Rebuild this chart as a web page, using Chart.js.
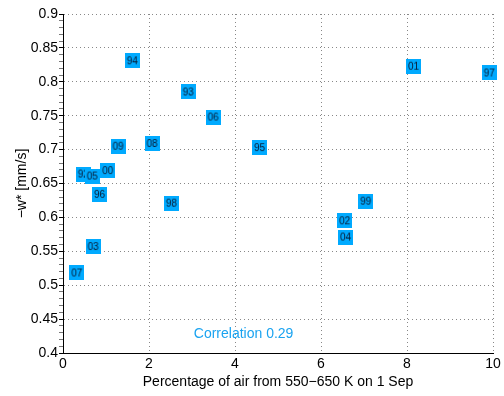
<!DOCTYPE html>
<html>
<head>
<meta charset="utf-8">
<script src="https://cdn.jsdelivr.net/npm/chart.js@4"></script>
<style>
  html, body { margin: 0; padding: 0; background: #fff; }
  #wrap { width: 504px; height: 396px; }
</style>
</head>
<body>
<div id="wrap"><canvas id="c" width="504" height="396"></canvas></div>
<script>
// Years (labels in the boxes)
const years = ['92','93','94','95','96','97','98','99','00','01','02','03','04','05','06','07','08','09'];
// Percentage of air from 550-650 K on 1 Sep
const airPct = [0.47, 2.91, 1.61, 4.57, 0.85, 9.91, 2.52, 7.04, 1.04, 8.15, 6.55, 0.70, 6.57, 0.68, 3.49, 0.32, 2.07, 1.28];
// -w* [mm/s]
const wStar = [0.664, 0.785, 0.831, 0.703, 0.634, 0.813, 0.621, 0.624, 0.669, 0.823, 0.595, 0.557, 0.571, 0.661, 0.748, 0.518, 0.709, 0.705];

const xTicks = [0, 2, 4, 6, 8, 10];
const corrText = 'Correlation 0.29';
const corrPos = [4.2, 0.428];

const BLUE = '#00aaff';
const FONT = 'Liberation Sans, Arial, Helvetica, sans-serif';

// each box is a small canvas with its year printed on it
function makeBox(txt) {
  const s = 15;
  const cv = document.createElement('canvas');
  cv.width = s; cv.height = s;
  const g = cv.getContext('2d');
  g.fillStyle = BLUE;
  g.fillRect(0, 0, s, s);
  g.fillStyle = '#081830';
  g.font = '10px ' + FONT;
  g.textAlign = 'center';
  g.textBaseline = 'middle';
  g.fillText(txt, s / 2, s / 2 + 0.5);
  return cv;
}
const boxes = years.map(makeBox);

const isMajor = v => Math.abs(v * 20 - Math.round(v * 20)) < 1e-6;

// correlation note
const corrPlugin = {
  id: 'corr',
  afterDatasetsDraw(chart) {
    const { ctx, scales } = chart;
    ctx.save();
    ctx.fillStyle = '#1aa3f0';
    ctx.font = '14px ' + FONT;
    ctx.textAlign = 'center';
    ctx.textBaseline = 'middle';
    ctx.fillText(corrText, scales.x.getPixelForValue(corrPos[0]), scales.y.getPixelForValue(corrPos[1]));
    ctx.restore();
  }
};

new Chart(document.getElementById('c'), {
  type: 'scatter',
  data: {
    datasets: [{
      data: airPct.map((x, i) => ({ x, y: wStar[i] })),
      pointStyle: ctx => boxes[ctx.dataIndex],
      pointRadius: 8,
      clip: false
    }]
  },
  options: {
    responsive: false,
    animation: false,
    events: [],
    layout: { padding: { left: 0, right: 11, top: 14, bottom: 5 } },
    plugins: { legend: { display: false }, tooltip: { enabled: false } },
    scales: {
      x: {
        type: 'linear',
        min: 0, max: 10,
        afterBuildTicks: s => { s.ticks = xTicks.map(v => ({ value: v })); },
        afterFit: s => { s.height = 38; },
        ticks: { color: '#000', font: { size: 14, family: FONT }, padding: 3, maxRotation: 0 },
        grid: {
          color: c => (c.tick && c.tick.value > 0) ? '#888' : 'rgba(0,0,0,0)',
          lineWidth: 1,
          drawTicks: false
        },
        border: { color: '#000', width: 1, dash: [1, 3] },
        title: {
          display: true,
          text: 'Percentage of air from 550\u2212650 K on 1 Sep',
          color: '#000',
          font: { size: 14, family: FONT },
          padding: { top: 0, bottom: 0 }
        }
      },
      y: {
        type: 'linear',
        min: 0.4, max: 0.9,
        afterFit: s => { s.width = 63; },
        ticks: {
          stepSize: 0.01,
          autoSkip: false,
          color: '#000',
          font: { size: 14, family: FONT },
          padding: 1,
          callback: v => isMajor(v) ? String(+v.toFixed(2)) : ''
        },
        grid: {
          color: c => (c.tick && isMajor(c.tick.value) && c.tick.value > 0.401) ? '#888' : 'rgba(0,0,0,0)',
          tickColor: c => (c.tick && isMajor(c.tick.value)) ? '#000' : '#777',
          tickBorderDash: [],
          lineWidth: 1,
          tickLength: 4
        },
        border: { color: '#000', width: 1, dash: [1, 3] },
        title: {
          display: true,
          text: '\u2212w* [mm/s]',
          color: '#000',
          font: { size: 14, family: FONT },
          padding: { top: 14, bottom: 4 }
        }
      }
    }
  },
  plugins: [corrPlugin]
});
</script>
</body>
</html>
